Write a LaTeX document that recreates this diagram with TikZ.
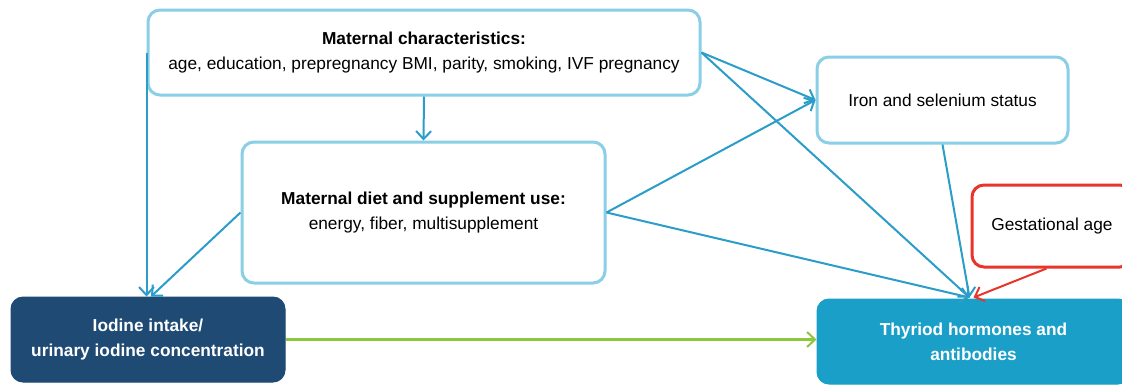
\documentclass[tikz,border=0pt]{standalone}
\usepackage{fontspec}
\setmainfont{Liberation Sans}
\usetikzlibrary{arrows.meta,calc}
\definecolor{boxline}{HTML}{8ACFE6}
\definecolor{arrowblue}{HTML}{2A9DC9}
\definecolor{navy}{HTML}{1F4A74}
\definecolor{thyfill}{HTML}{1A9FC8}
\definecolor{grn}{HTML}{8DC63F}
\definecolor{redl}{HTML}{E8342A}
\tikzset{
  lbox/.style={draw=boxline, line width=3pt, rounded corners=12pt, fill=white, align=center, inner sep=0pt, font=\fontsize{17.3}{25}\selectfont},
  dbox/.style={lbox, font=\fontsize{17.3}{25}\selectfont\bfseries, text=white},
  tip/.style={-{Straight Barb[length=8pt,width=15pt,line width=2pt]}},
  arr/.style={draw=arrowblue, line width=2pt, tip},
  garr/.style={draw=grn, line width=2.4pt, tip},
  rarr/.style={draw=redl, line width=2pt, tip},
}
\begin{document}
\begin{tikzpicture}[x=1pt,y=-1pt]
\useasboundingbox (0,0) rectangle (1122,384);
\fill[white] (0,0) rectangle (1122,384);

\node[lbox, minimum width=552pt, minimum height=85pt] (mat) at (424,52.5)
  {\textbf{Maternal characteristics:}\\age, education, prepregnancy BMI, parity, smoking, IVF pregnancy};
\node[lbox, minimum width=363pt, minimum height=141pt] (diet) at (423.5,212.5)
  {\textbf{Maternal diet and supplement use:}\\energy, fiber, multisupplement};
\node[lbox, minimum width=251pt, minimum height=86pt] (iron) at (942.5,100)
  {Iron and selenium status};
\node[lbox, draw=redl, minimum width=160pt, minimum height=82pt] (gest) at (1052,226)
  {Gestational age};
\node[dbox, draw=navy, fill=navy, line width=1pt, minimum width=274pt, minimum height=85pt] (iod) at (148,339.5)
  {Iodine intake/\\urinary iodine concentration};
\node[dbox, draw=thyfill, fill=thyfill, line width=1pt, minimum width=313pt, minimum height=85pt] (thy) at (973.5,341.5)
  {Thyriod hormones and\\antibodies};

\coordinate (tin) at ($(thy.north west)+(153,-1)$);
\coordinate (rin) at ($(thy.north west)+(157,-1)$);
\coordinate (gout) at ($(gest.south west)+(76,0)$);

\draw[arr] (mat.south) -- (diet.north);
\draw[arr] (mat.west) -- (mat.west |- iod.north);
\draw[arr] (diet.west) -- ($(iod.north)+(3,0)$);
\draw[arr] (diet.east) -- (iron.west);
\draw[arr] (diet.east) -- (tin);
\draw[arr] (mat.east) -- (iron.west);
\draw[arr] (mat.east) -- (tin);
\draw[arr] (iron.south) -- (tin);
\draw[rarr] (gout) -- (rin);
\draw[garr] (iod.east) -- (iod.east -| thy.west);
\end{tikzpicture}
\end{document}
